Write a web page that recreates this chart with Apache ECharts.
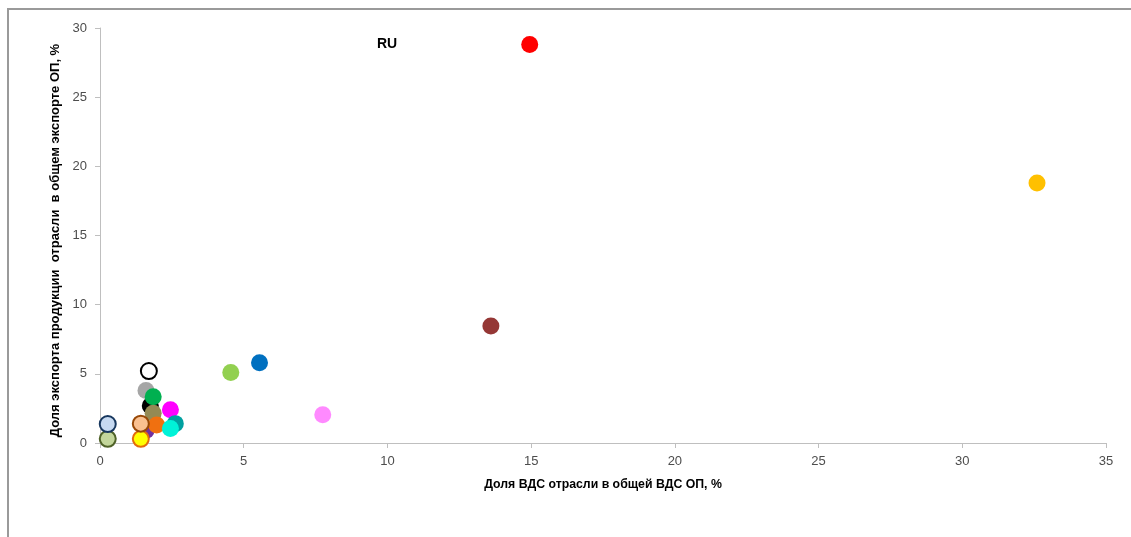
<!DOCTYPE html>
<html>
<head>
<meta charset="utf-8">
<script src="https://cdn.jsdelivr.net/npm/echarts@6/dist/echarts.min.js"></script>
<style>
  html, body { margin: 0; padding: 0; background: #fff; }
  #frame { position: absolute; left: 7px; top: 8px; width: 1200px; height: 600px;
           border-left: 2px solid #9a9a9a; border-top: 2px solid #9a9a9a; }
  #chart { position: absolute; left: 0; top: 0; width: 1131px; height: 537px; }
</style>
</head>
<body>
<div id="frame"></div>
<div id="chart"></div>
<script>
// ---- data ----
const pointNames = ['RU', 'p2', 'p3', 'p4', 'p5', 'p6', 'p7', 'p8', 'p9', 'p10',
                    'p11', 'p12', 'p13', 'p14', 'p15', 'p16', 'p17', 'p18', 'p19', 'p20'];
const xValues = [14.95, 32.6, 13.6, 5.55, 4.55, 7.75, 1.75, 1.6, 1.85, 1.85,
                 2.45, 1.6, 1.97, 2.62, 2.45, 1.7, 0.27, 0.27, 1.42, 1.42];
const yValues = [28.8, 18.8, 8.45, 5.8, 5.1, 2.05, 2.7, 3.8, 3.35, 2.15,
                 2.4, 0.9, 1.3, 1.4, 1.05, 5.2, 0.3, 1.37, 0.3, 1.4];
const xTicks = [0, 5, 10, 15, 20, 25, 30, 35];
const yTicks = [0, 5, 10, 15, 20, 25, 30];

// ---- styles ----
const fillColors = ['#FF0000', '#FFC000', '#953735', '#0070C0', '#92D050', '#FF8AFF', '#000000', '#A6A6A6', '#00B050', '#948A54',
                    '#FF00FF', '#7030A0', '#F07010', '#00A0A0', '#00F2D8', '#FFFFFF', '#C3D69B', '#C6D9F1', '#FFFF00', '#FAC090'];
const borderColors = [null, null, null, null, null, null, null, null, null, null,
                      null, null, null, null, null, '#000000', '#4F6228', '#17375E', '#E46C0A', '#984807'];

const data = xValues.map((x, i) => {
  const item = {
    name: pointNames[i],
    value: [x, yValues[i]],
    itemStyle: { color: fillColors[i], opacity: 1 }
  };
  if (borderColors[i]) {
    item.itemStyle.borderColor = borderColors[i];
    item.itemStyle.borderWidth = 2;
    item.symbolSize = 16;
  }
  if (pointNames[i] === 'RU') {
    item.label = {
      show: true, formatter: 'RU', position: 'left', distance: 124,
      fontSize: 14, fontWeight: 'bold', color: '#000',
      fontFamily: 'Liberation Sans'
    };
  }
  return item;
});

const tickFont = { color: '#4d4d4d', fontSize: 13, fontFamily: 'Liberation Sans, Arial, sans-serif' };
const nameFont = 'Liberation Sans Narrow, Liberation Sans, Arial, sans-serif';

const chart = echarts.init(document.getElementById('chart'), null, { renderer: 'canvas' });
chart.setOption({
  animation: false,
  backgroundColor: 'transparent',
  grid: { left: 100, right: 25, top: 28, bottom: 94 },
  xAxis: {
    type: 'value', min: xTicks[0], max: xTicks[xTicks.length - 1], interval: 5,
    name: 'Доля ВДС отрасли в общей ВДС ОП, %',
    nameLocation: 'middle', nameGap: 36,
    nameTextStyle: { fontSize: 12.3, fontWeight: 'bold', color: '#000', fontFamily: nameFont },
    axisLine: { show: true, lineStyle: { color: '#BFBFBF', width: 1 } },
    axisTick: { show: true, length: 5, lineStyle: { color: '#BFBFBF' } },
    axisLabel: Object.assign({ margin: 12 }, tickFont),
    splitLine: { show: false }
  },
  yAxis: {
    type: 'value', min: yTicks[0], max: yTicks[yTicks.length - 1], interval: 5,
    name: 'Доля экспорта продукции  отрасли  в общем экспорте ОП, %',
    nameLocation: 'middle', nameGap: 32,
    nameTextStyle: { fontSize: 13, fontWeight: 'bold', color: '#000', fontFamily: nameFont,
      padding: [0, 10, 0, 0] },
    axisLine: { show: true, lineStyle: { color: '#BFBFBF', width: 1 } },
    axisTick: { show: true, length: 5, lineStyle: { color: '#BFBFBF' } },
    axisLabel: Object.assign({ margin: 13 }, tickFont),
    splitLine: { show: false }
  },
  series: [{
    type: 'scatter',
    symbol: 'circle',
    symbolSize: 17,
    data: data,
    emphasis: { disabled: true }
  }]
});
</script>
</body>
</html>
